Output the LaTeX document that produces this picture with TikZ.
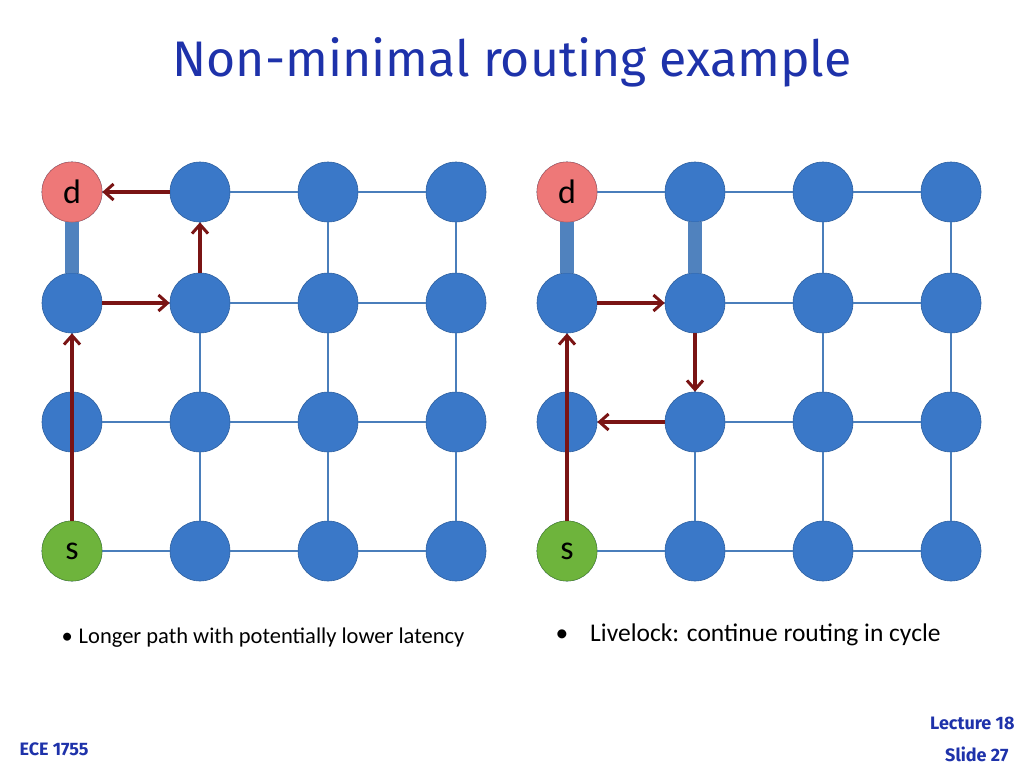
\documentclass[tikz,border=0pt]{standalone}
\usepackage{fontspec}
\setmainfont{Carlito}
\newfontfamily\titlefont{Fira Sans}
\usetikzlibrary{arrows.meta}
\definecolor{nodeblue}{RGB}{58,120,200}
\definecolor{edgeblue}{RGB}{74,126,187}
\definecolor{thickblue}{RGB}{80,130,190}
\definecolor{arrowred}{RGB}{122,20,20}
\definecolor{dred}{RGB}{238,120,120}
\definecolor{sgreen}{RGB}{110,180,60}
\definecolor{titleblue}{RGB}{30,50,170}
\tikzset{
  gnode/.style={circle,minimum size=60pt,inner sep=0pt,fill=nodeblue,draw=nodeblue!80!black,line width=0.6pt,font=\fontsize{34}{34}\selectfont},
  link/.style={draw=edgeblue,line width=2pt},
  thick link/.style={draw=thickblue,line width=14pt},
  route/.style={draw=arrowred,line width=4pt,-{Straight Barb[length=9pt,width=16pt,line width=3pt]}},
  footer/.style={text=titleblue,font=\titlefont\bfseries\fontsize{18}{18}\selectfont}
}
\begin{document}
\begin{tikzpicture}[x=1pt,y=-1pt]
\useasboundingbox (0,0) rectangle (1024,768);
\node[text=titleblue,font=\titlefont\fontsize{50}{50}\selectfont] (title) at (512,62) {Non-minimal routing example};
% grids
\foreach \g/\ox in {L/72,R/567}{
  \foreach \c in {0,1,2,3}{
    \foreach \r/\y in {0/192,1/303,2/422,3/551}{
      \node[gnode] (\g\c\r) at ({\ox+128*\c},\y) {};
    }
  }
}
\foreach \g in {L,R}{
  \foreach \c in {0,1,2,3}{
    \foreach \r [evaluate=\r as \rn using int(\r+1)] in {0,1,2}{
      \draw[link] (\g\c\r) -- (\g\c\rn);
    }
  }
  \foreach \r in {0,1,2,3}{
    \foreach \c [evaluate=\c as \cn using int(\c+1)] in {0,1,2}{
      \draw[link] (\g\c\r) -- (\g\cn\r);
    }
  }
}
\draw[thick link] (L00) -- (L01);
\draw[thick link] (R00) -- (R01);
\draw[thick link] (R10) -- (R11);
% special nodes
\foreach \g/\ox in {L/72,R/567}{
  \node[gnode,fill=dred,draw=dred!80!black] (\g d) at (\ox,192) {d};
  \node[gnode,fill=sgreen,draw=sgreen!80!black] (\g s) at (\ox,551) {s};
}
% routes left
\draw[route] (Ls) -- (L01);
\draw[route] (L01) -- (L11);
\draw[route] (L11) -- (L10);
\draw[route] (L10) -- (Ld);
% routes right
\draw[route] (Rs) -- (R01);
\draw[route] (R01) -- (R11);
\draw[route] (R11) -- (R12);
\draw[route] (R12) -- (R02);
% bullets
\node[anchor=west,font=\fontsize{22.5}{22.5}\selectfont] (b1) at (58,638) {\textbullet\hspace{6pt}Longer path with potentially lower latency};
\node[anchor=west,font=\fontsize{25.5}{25.5}\selectfont] (b2) at (552,635) {\textbullet\hspace{22pt}Livelock: continue routing in cycle};
% footer
\node[anchor=west,footer] (f1) at (16,749) {ECE 1755};
\node[anchor=east,footer] (f2) at (1018,723) {Lecture 18};
\node[anchor=east,footer] (f3) at (1012,754) {Slide 27};
\end{tikzpicture}
\end{document}
